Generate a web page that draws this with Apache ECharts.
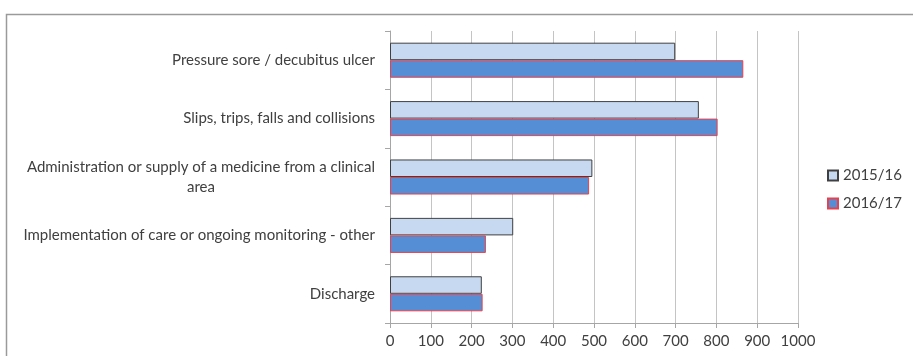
<!DOCTYPE html>
<html>
<head>
<meta charset="utf-8">
<script src="https://cdn.jsdelivr.net/npm/echarts@6/dist/echarts.min.js"></script>
<style>
html,body{margin:0;padding:0;background:#fff;}
#chart{width:913px;height:356px;}
</style>
</head>
<body>
<div id="chart"></div>
<script>
var categories = [
  'Pressure sore / decubitus ulcer',
  'Slips, trips, falls and collisions',
  'Administration or supply of a medicine from a clinical area',
  'Implementation of care or ongoing monitoring - other',
  'Discharge'
];
var seriesNames = ['2015/16', '2016/17'];
var values2015 = [699, 757, 496, 302, 225];
var values2016 = [866, 803, 488, 235, 227];
var xTicks = [0, 100, 200, 300, 400, 500, 600, 700, 800, 900, 1000];

var FONT = 'Lato, "Open Sans", sans-serif';
var FS = 15;
var chart = echarts.init(document.getElementById('chart'), null, {renderer: 'canvas'});

function wrapLabel(v) {
  if (v.length <= 54) return v;
  var cut = v.lastIndexOf(' ', 54);
  return '{c|' + v.slice(0, cut) + '}\n{c|' + v.slice(cut + 1) + '}';
}

chart.setOption({
  animation: false,
  backgroundColor: '#fff',
  graphic: [{
    type: 'rect',
    left: 4, top: 12,
    shape: {width: 930, height: 360},
    style: {fill: 'none', stroke: '#9a9a9a', lineWidth: 1.5},
    silent: true, z: -1
  }],
  grid: {left: 390, right: 115, top: 31, bottom: 33, containLabel: false},
  legend: {
    orient: 'vertical',
    left: 822, top: 163,
    icon: 'rect',
    itemWidth: 10, itemHeight: 10, itemGap: 13,
    textStyle: {fontFamily: FONT, fontSize: FS, color: '#404040'},
    data: seriesNames
  },
  xAxis: {
    type: 'value', min: xTicks[0], max: xTicks[xTicks.length - 1], interval: 100,
    axisLine: {show: true, lineStyle: {color: '#a6a6a6', width: 1}},
    axisTick: {show: true, length: 5, lineStyle: {color: '#a6a6a6'}},
    axisLabel: {fontFamily: FONT, fontSize: FS, color: '#404040', margin: 11,
      formatter: function (v) { return String(v); }},
    splitLine: {show: true, lineStyle: {color: '#c4c4c4', width: 1}}
  },
  yAxis: {
    type: 'category', data: categories, inverse: true,
    axisLine: {show: true, lineStyle: {color: '#a6a6a6', width: 1}},
    axisTick: {show: true, length: 5, lineStyle: {color: '#a6a6a6'}},
    axisLabel: {
      fontFamily: FONT, fontSize: FS, color: '#404040', margin: 15, lineHeight: 20,
      formatter: wrapLabel,
      rich: {c: {align: 'center', fontFamily: FONT, fontSize: FS, color: '#404040', lineHeight: 20}}
    }
  },
  series: [{
    name: seriesNames[0], type: 'bar', data: values2015,
    barCategoryGap: '40%', barGap: '0%',
    itemStyle: {color: '#c6d9f1', borderColor: '#404040', borderWidth: 1}
  }, {
    name: seriesNames[1], type: 'bar', data: values2016,
    barCategoryGap: '40%', barGap: '0%',
    itemStyle: {color: '#558ed5', borderColor: '#e8404c', borderWidth: 1}
  }]
});
</script>
</body>
</html>
